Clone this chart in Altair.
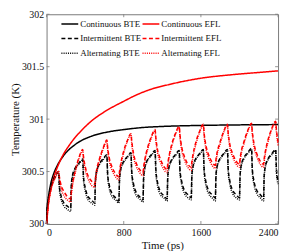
import altair as alt
import pandas as pd

# ---- data ----
series_names = ["Continuous BTE", "Continuous EFL", "Intermittent BTE",
                "Intermittent EFL", "Alternating BTE", "Alternating EFL"]

time_cont_bte = [0, 6, 20, 40, 70, 107, 175, 300, 475, 650, 800, 1000, 1200, 1600, 2000, 2400]
temp_cont_bte = [300.00, 300.15, 300.26, 300.37, 300.47, 300.55, 300.65, 300.76, 300.84,
                 300.88, 300.90, 300.92, 300.93, 300.94, 300.945, 300.948]

time_cont_efl = [0, 10, 37, 70, 107, 155, 250, 360, 476, 600, 800, 930, 1100, 1270,
                 1600, 1940, 2200, 2400]
temp_cont_efl = [300.00, 300.12, 300.30, 300.43, 300.53, 300.63, 300.77, 300.89, 300.99,
                 301.07, 301.17, 301.23, 301.29, 301.33, 301.39, 301.425, 301.445, 301.46]

time_pulse = [
    0, 6, 18, 45, 85, 125, 133, 150, 180, 215,
    250, 256, 268, 295, 335, 375, 383, 400, 430, 465,
    500, 506, 518, 545, 585, 625, 633, 650, 680, 715,
    750, 756, 768, 795, 835, 875, 883, 900, 930, 965,
    1000, 1006, 1018, 1045, 1085, 1125, 1133, 1150, 1180, 1215,
    1250, 1256, 1268, 1295, 1335, 1375, 1383, 1400, 1430, 1465,
    1500, 1506, 1518, 1545, 1585, 1625, 1633, 1650, 1680, 1715,
    1750, 1756, 1768, 1795, 1835, 1875, 1883, 1900, 1930, 1965,
    2000, 2006, 2018, 2045, 2085, 2125, 2133, 2150, 2180, 2215,
    2250, 2256, 2268, 2295, 2335, 2375, 2383, 2400]

temp_int_bte = [
    300.00, 300.14, 300.24, 300.36, 300.45, 300.50, 300.36, 300.27, 300.20, 300.17,
    300.15, 300.36, 300.46, 300.53, 300.58, 300.62, 300.45, 300.35, 300.26, 300.23,
    300.20, 300.41, 300.50, 300.57, 300.62, 300.66, 300.48, 300.37, 300.29, 300.25,
    300.22, 300.43, 300.52, 300.59, 300.64, 300.68, 300.50, 300.39, 300.30, 300.26,
    300.23, 300.44, 300.54, 300.61, 300.66, 300.70, 300.52, 300.40, 300.31, 300.27,
    300.24, 300.45, 300.54, 300.61, 300.66, 300.70, 300.52, 300.41, 300.32, 300.28,
    300.25, 300.46, 300.55, 300.62, 300.67, 300.71, 300.53, 300.41, 300.32, 300.28,
    300.25, 300.46, 300.55, 300.62, 300.67, 300.71, 300.53, 300.41, 300.32, 300.28,
    300.25, 300.46, 300.56, 300.63, 300.68, 300.72, 300.53, 300.41, 300.32, 300.28,
    300.25, 300.46, 300.55, 300.62, 300.67, 300.71, 300.53, 300.41]

temp_alt_bte = [
    300.00, 300.13, 300.23, 300.35, 300.44, 300.49, 300.33, 300.24, 300.17, 300.14,
    300.12, 300.34, 300.44, 300.52, 300.57, 300.61, 300.42, 300.32, 300.23, 300.20,
    300.18, 300.39, 300.49, 300.56, 300.61, 300.65, 300.46, 300.34, 300.26, 300.23,
    300.20, 300.41, 300.51, 300.58, 300.63, 300.67, 300.47, 300.36, 300.27, 300.24,
    300.21, 300.42, 300.52, 300.60, 300.65, 300.69, 300.49, 300.37, 300.28, 300.25,
    300.22, 300.43, 300.53, 300.60, 300.65, 300.69, 300.49, 300.38, 300.29, 300.25,
    300.23, 300.44, 300.54, 300.61, 300.66, 300.70, 300.50, 300.38, 300.29, 300.25,
    300.22, 300.44, 300.54, 300.61, 300.66, 300.70, 300.50, 300.38, 300.29, 300.25,
    300.23, 300.44, 300.55, 300.62, 300.67, 300.71, 300.50, 300.38, 300.29, 300.25,
    300.22, 300.44, 300.54, 300.61, 300.66, 300.70, 300.50, 300.38]

temp_int_efl = [
    300.00, 300.07, 300.19, 300.33, 300.44, 300.50, 300.45, 300.37, 300.31, 300.26,
    300.24, 300.30, 300.38, 300.50, 300.63, 300.71, 300.64, 300.55, 300.46, 300.41,
    300.38, 300.43, 300.51, 300.61, 300.72, 300.80, 300.73, 300.63, 300.54, 300.48,
    300.45, 300.50, 300.57, 300.68, 300.79, 300.86, 300.79, 300.68, 300.58, 300.52,
    300.49, 300.54, 300.61, 300.72, 300.83, 300.90, 300.82, 300.71, 300.62, 300.55,
    300.52, 300.57, 300.64, 300.75, 300.86, 300.93, 300.85, 300.74, 300.64, 300.57,
    300.54, 300.59, 300.66, 300.77, 300.88, 300.95, 300.87, 300.76, 300.66, 300.59,
    300.56, 300.61, 300.68, 300.77, 300.88, 300.95, 300.87, 300.76, 300.67, 300.60,
    300.57, 300.62, 300.69, 300.78, 300.89, 300.96, 300.88, 300.77, 300.67, 300.60,
    300.57, 300.62, 300.69, 300.80, 300.91, 300.98, 300.90, 300.78]

temp_alt_efl = [
    300.00, 300.06, 300.18, 300.32, 300.43, 300.49, 300.43, 300.34, 300.27, 300.23,
    300.21, 300.27, 300.36, 300.48, 300.62, 300.70, 300.62, 300.52, 300.43, 300.37,
    300.35, 300.40, 300.48, 300.59, 300.71, 300.79, 300.71, 300.60, 300.51, 300.45,
    300.42, 300.47, 300.55, 300.66, 300.78, 300.85, 300.77, 300.65, 300.55, 300.49,
    300.46, 300.51, 300.59, 300.70, 300.82, 300.89, 300.80, 300.68, 300.59, 300.52,
    300.49, 300.54, 300.62, 300.73, 300.85, 300.92, 300.83, 300.71, 300.61, 300.54,
    300.51, 300.56, 300.64, 300.75, 300.87, 300.94, 300.85, 300.73, 300.63, 300.56,
    300.53, 300.58, 300.66, 300.75, 300.87, 300.94, 300.85, 300.73, 300.64, 300.57,
    300.54, 300.59, 300.67, 300.76, 300.88, 300.95, 300.86, 300.74, 300.64, 300.57,
    300.54, 300.59, 300.67, 300.78, 300.90, 300.97, 300.88, 300.75]

x_ticks = [0, 800, 1600, 2400]
y_ticks = [300, 300.5, 301, 301.5, 302]

# ---- build table ----
rows = []
for t, v in zip(time_cont_bte, temp_cont_bte):
    rows.append({"series": series_names[0], "t": t, "T": v})
for t, v in zip(time_cont_efl, temp_cont_efl):
    rows.append({"series": series_names[1], "t": t, "T": v})
for name, vals in [(series_names[2], temp_int_bte), (series_names[3], temp_int_efl),
                   (series_names[4], temp_alt_bte), (series_names[5], temp_alt_efl)]:
    for t, v in zip(time_pulse, vals):
        rows.append({"series": name, "t": t, "T": v})
df = pd.DataFrame(rows)

W, H = 234, 212
FONT = "Liberation Serif"
FRAME = "#7a7a7a"

xscale = alt.Scale(domain=[0, 2400], nice=False, zero=False)
yscale = alt.Scale(domain=[300, 302], nice=False, zero=False)

legend = alt.Legend(title=None, orient="none", legendX=14, legendY=0, columns=2,
                    direction="horizontal",
                    symbolType="stroke", symbolSize=289, labelFont=FONT, labelFontSize=9,
                    labelColor="#111", labelOffset=1, rowPadding=0, columnPadding=-11,
                    padding=0)

lines = alt.Chart(df).mark_line(interpolate="monotone").encode(
    x=alt.X("t:Q", scale=xscale,
            axis=alt.Axis(values=x_ticks, title="Time (ps)", labelPadding=4,
                          titlePadding=2, format="d")),
    y=alt.Y("T:Q", scale=yscale,
            axis=alt.Axis(values=y_ticks, title="Temperature (K)", labelPadding=3,
                          titlePadding=1, labelExpr="datum.value + ''")),
    color=alt.Color("series:N", sort=series_names,
                    scale=alt.Scale(domain=series_names,
                                    range=["#000000", "#ff0000", "#000000", "#ff0000",
                                           "#000000", "#ff0000"]),
                    legend=legend),
    strokeDash=alt.StrokeDash("series:N", sort=series_names,
                              scale=alt.Scale(domain=series_names,
                                              range=[[1, 0], [1, 0], [4, 2.5], [4, 2.5],
                                                     [1, 1.2], [1, 1.2]]),
                              legend=legend),
    strokeWidth=alt.StrokeWidth("series:N", sort=series_names,
                                scale=alt.Scale(domain=series_names,
                                                range=[1.5, 1.5, 1.1, 1.1, 1.1, 1.1]),
                                legend=legend),
    order="t:Q",
)

xt = pd.DataFrame({"t": x_ticks})
yt = pd.DataFrame({"T": y_ticks})
tick_bottom = alt.Chart(xt).mark_rule(color=FRAME, strokeWidth=0.8).encode(
    x="t:Q", y=alt.value(H), y2=alt.value(H - 3))
tick_top = alt.Chart(xt).mark_rule(color=FRAME, strokeWidth=0.8).encode(
    x="t:Q", y=alt.value(0), y2=alt.value(3))
tick_left = alt.Chart(yt).mark_rule(color=FRAME, strokeWidth=0.8).encode(
    y="T:Q", x=alt.value(0), x2=alt.value(3))
tick_right = alt.Chart(yt).mark_rule(color=FRAME, strokeWidth=0.8).encode(
    y="T:Q", x=alt.value(W), x2=alt.value(W - 3))

chart = alt.layer(lines, tick_bottom, tick_top, tick_left, tick_right).properties(
    width=W, height=H,
    autosize=alt.AutoSizeParams(type="none"),
    padding={"left": 39, "top": 5, "right": 5, "bottom": 27},
).configure_view(
    stroke=FRAME, strokeWidth=1
).configure_axis(
    grid=False, ticks=False, domain=False,
    labelFont=FONT, labelFontSize=10, labelColor="#111",
    titleFont=FONT, titleFontSize=11, titleFontWeight="normal", titleColor="#111",
)

chart.save("out.html", embed_options={"renderer": "svg", "actions": False})
